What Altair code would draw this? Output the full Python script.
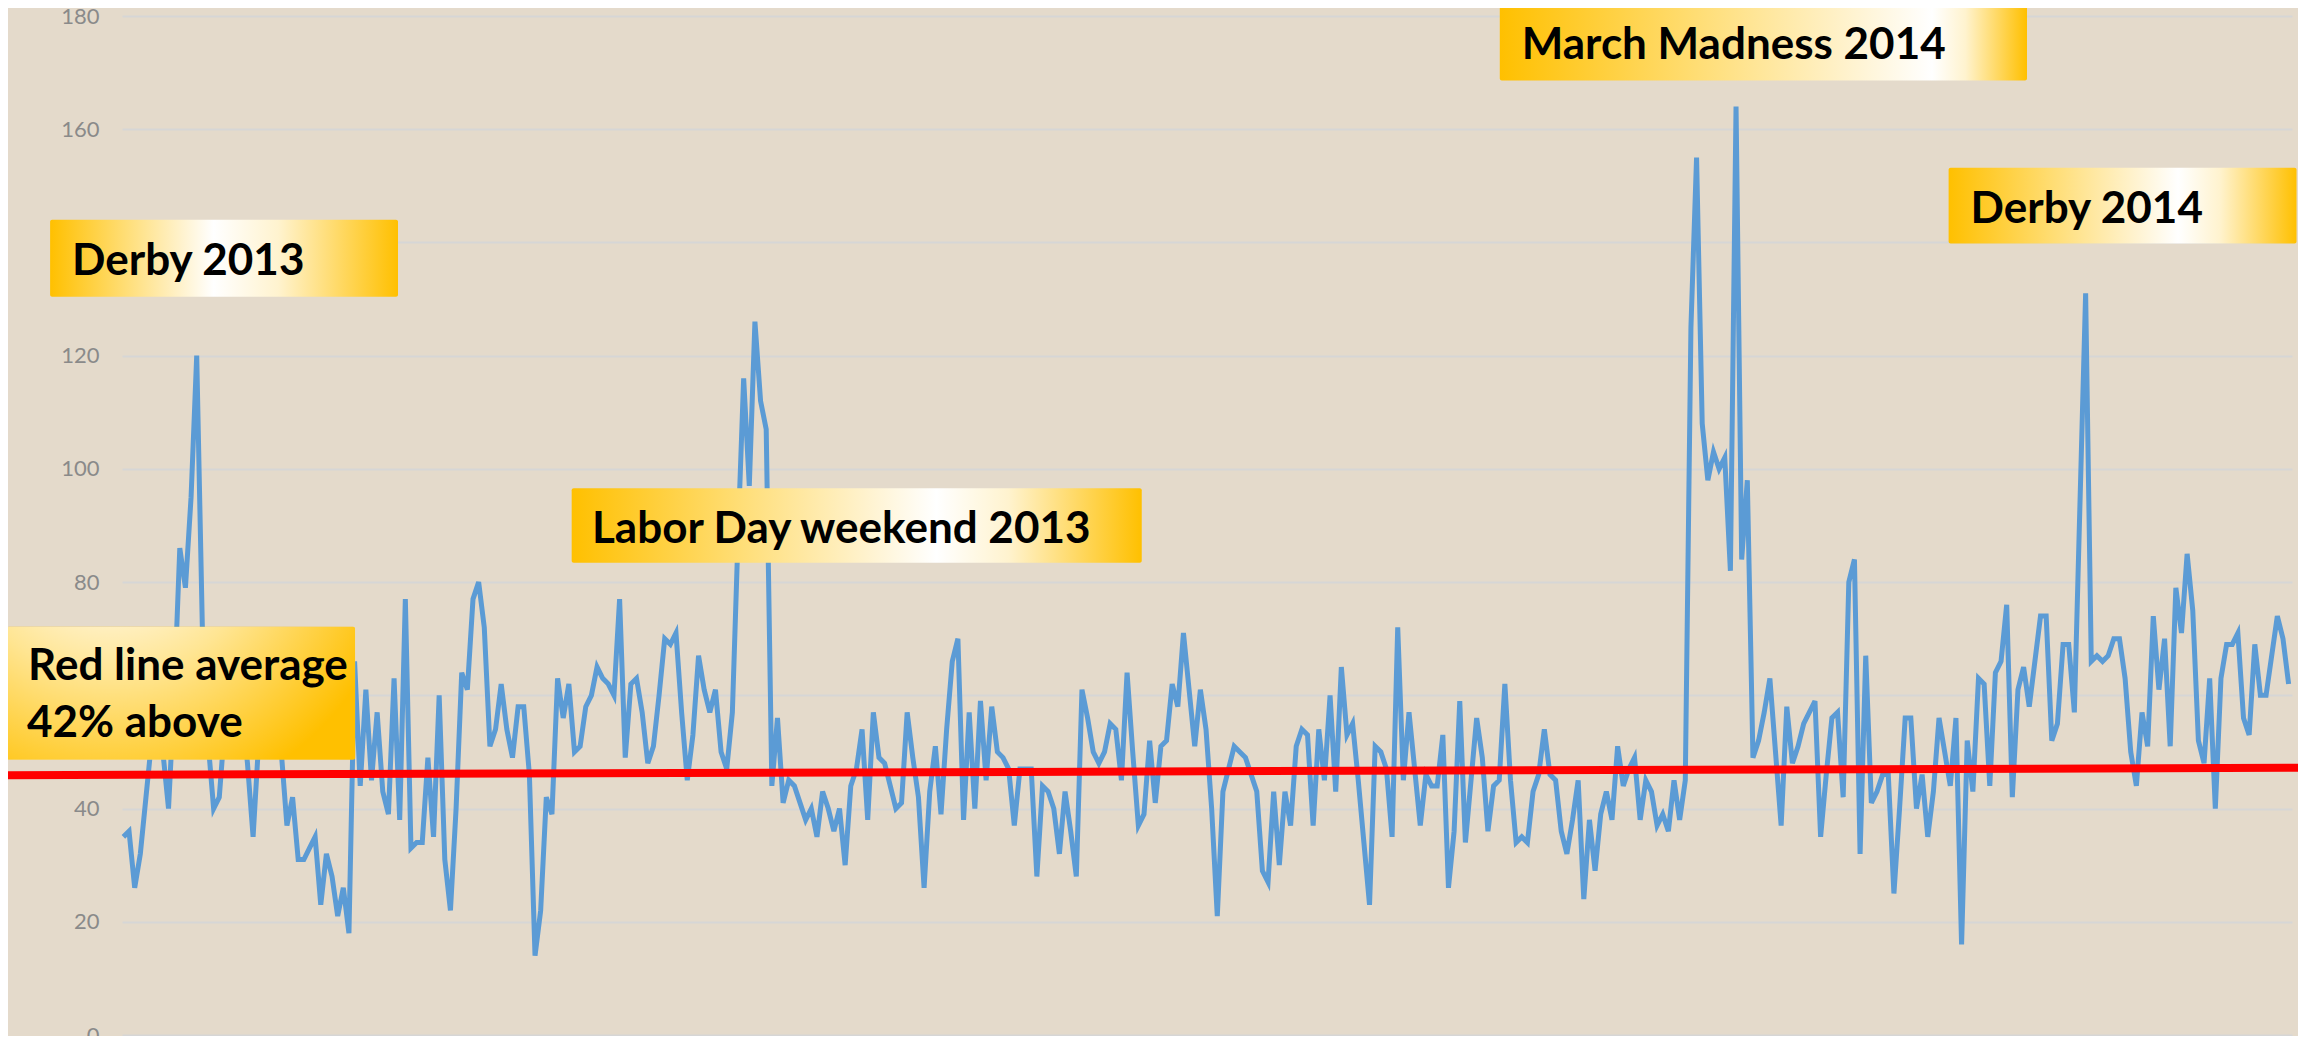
import altair as alt
import pandas as pd

# ---- series values (one per day-step) ----
values = [
    35, 36, 26, 32, 42, 52, 58, 50, 40, 60,
    86, 79, 95, 120, 72, 52, 40, 42, 55, 60,
    50, 58, 48, 35, 52, 62, 55, 60, 50, 37,
    42, 31, 31, 33, 35, 23, 32, 28, 21, 26,
    18, 66, 44, 61, 45, 57, 43, 39, 63, 38,
    77, 33, 34, 34, 49, 35, 60, 31, 22, 40,
    64, 61, 77, 80, 72, 51, 54, 62, 54, 49,
    58, 58, 46, 14, 22, 42, 39, 63, 56, 62,
    50, 51, 58, 60, 65, 63, 62, 60, 77, 49,
    62, 63, 57, 48, 51, 60, 70, 69, 71, 57,
    45, 53, 67, 61, 57, 61, 50, 47, 57, 88,
    116, 97, 126, 112, 107, 44, 56, 41, 45, 44,
    41, 38, 40, 35, 43, 40, 36, 40, 30, 44,
    47, 54, 38, 57, 49, 48, 44, 40, 41, 57,
    49, 42, 26, 43, 51, 39, 54, 66, 70, 38,
    57, 40, 59, 45, 58, 50, 49, 47, 37, 47,
    47, 47, 28, 44, 43, 40, 32, 43, 36, 28,
    61, 56, 50, 48, 50, 55, 54, 45, 64, 50,
    37, 39, 52, 41, 51, 52, 62, 58, 71, 61,
    51, 61, 54, 40, 21, 43, 47, 51, 50, 49,
    46, 43, 29, 27, 43, 30, 43, 37, 51, 54,
    53, 37, 54, 45, 60, 43, 65, 53, 55, 45,
    34, 23, 51, 50, 47, 35, 72, 45, 57, 47,
    37, 46, 44, 44, 53, 26, 36, 59, 34, 45,
    56, 49, 36, 44, 45, 62, 45, 34, 35, 34,
    43, 46, 54, 46, 45, 36, 32, 38, 45, 24,
    38, 29, 39, 43, 38, 51, 44, 47, 49, 38,
    45, 43, 37, 39, 36, 45, 38, 45, 125, 155,
    108, 98, 103, 100, 102, 82, 164, 84, 98, 49,
    52, 57, 63, 50, 37, 58, 48, 51, 55, 57,
    59, 35, 46, 56, 57, 42, 80, 84, 32, 67,
    41, 43, 46, 46, 25, 40, 56, 56, 40, 46,
    35, 43, 56, 50, 44, 56, 16, 52, 43, 63,
    62, 44, 64, 66, 76, 42, 61, 65, 58, 66,
    74, 74, 52, 55, 69, 69, 57, 94, 131, 66,
    67, 66, 67, 70, 70, 63, 50, 44, 57, 51,
    74, 61, 70, 51, 79, 71, 85, 75, 52, 48,
    63, 40, 63, 69, 69, 71, 56, 53, 69, 60,
    60, 67, 74, 70, 62,
]
day_index = list(range(len(values)))

y_ticks = [0, 20, 40, 60, 80, 100, 120, 140, 160, 180]

# red trend line (start / end)
red_x = [-20.6, 386.3]
red_y = [45.9, 47.2]

# annotation boxes (data units)
box_x1 = [-13.0, -20.6, 79.5, 244.1, 323.7]
box_x2 = [48.7, 41.1, 180.6, 337.6, 385.4]
box_y1 = [130.4, 48.6, 83.4, 168.6, 139.8]
box_y2 = [144.0, 72.1, 96.6, 182.3, 153.2]
box_white = [0.47, 0.30, 0.64, 0.82, 0.66]

# annotation texts
ann_text = ["Derby 2013", "Red line average", "42% above",
            "Labor Day weekend 2013", "March Madness 2014", "Derby 2014"]
ann_x = [-9.1, -16.9, -17.1, 83.1, 248.0, 327.6]
ann_y = [134.3, 62.7, 52.7, 86.9, 172.4, 143.4]

ORANGE = "#ffc000"
BLUE = "#5b9bd5"

xscale = alt.Scale(domain=[-0.25, 384.6], nice=False, zero=False)
yscale = alt.Scale(domain=[0, 180], nice=False, zero=True)
yaxis = alt.Axis(values=y_ticks, grid=True, gridColor="#d6d6d6", gridWidth=2,
                 domain=False, ticks=False, tickSize=0, labelColor="#8a8a8a",
                 labelFont="Lato", labelFontSize=22, labelPadding=23, title=None)

df = pd.DataFrame({"i": day_index, "v": values})

line = alt.Chart(df).mark_line(color=BLUE, strokeWidth=5).encode(
    x=alt.X("i:Q", scale=xscale, axis=None),
    y=alt.Y("v:Q", scale=yscale, axis=yaxis),
)

red_df = pd.DataFrame({"i": red_x, "v": red_y})
red = alt.Chart(red_df).mark_line(color="#ff0000", strokeWidth=8, clip=False).encode(
    x=alt.X("i:Q", scale=xscale, axis=None),
    y=alt.Y("v:Q", scale=yscale, axis=yaxis),
)

layers = [line, red]

for k in range(len(box_x1)):
    w = box_white[k]
    if k == 1:
        fill = {
            "gradient": "radial",
            "x1": 0.3, "y1": 0.0, "r1": 0.0,
            "x2": 0.3, "y2": 0.0, "r2": 1.0,
            "stops": [
                {"offset": 0.0, "color": "#ffffff"},
                {"offset": 0.15, "color": "#fffaf0"},
                {"offset": 0.45, "color": "#ffe592"},
                {"offset": 0.85, "color": ORANGE},
                {"offset": 1.0, "color": ORANGE},
            ],
        }
    else:
        fill = {
            "gradient": "linear",
            "x1": 0, "y1": 0, "x2": 1, "y2": 0,
            "stops": [
                {"offset": 0.0, "color": ORANGE},
                {"offset": w * 0.45, "color": "#ffdd73"},
                {"offset": w * 0.8, "color": "#fff2cc"},
                {"offset": w, "color": "#ffffff"},
                {"offset": w + (1 - w) * 0.35, "color": "#fff3cf"},
                {"offset": 1.0, "color": ORANGE},
            ],
        }
    bdf = pd.DataFrame({"x1": [box_x1[k]], "x2": [box_x2[k]],
                        "y1": [box_y1[k]], "y2": [box_y2[k]]})
    rect = alt.Chart(bdf).mark_rect(fill=fill, cornerRadius=2, clip=False).encode(
        x=alt.X("x1:Q", scale=xscale, axis=None),
        x2="x2:Q",
        y=alt.Y("y1:Q", scale=yscale, axis=yaxis),
        y2="y2:Q",
    )
    layers.append(rect)

ann_df = pd.DataFrame({"i": ann_x, "v": ann_y, "t": ann_text})
texts = alt.Chart(ann_df).mark_text(
    align="left", baseline="alphabetic", font="Lato", fontWeight="bold",
    fontSize=44, color="#000000", clip=False,
).encode(
    x=alt.X("i:Q", scale=xscale, axis=None),
    y=alt.Y("v:Q", scale=yscale, axis=yaxis),
    text="t:N",
)
layers.append(texts)

chart = alt.layer(*layers).properties(
    width=2170, height=1019,
    autosize=alt.AutoSizeParams(type="none"),
    padding={"left": 114, "top": 8, "right": 6, "bottom": 1},
).configure(background="#e4dacb").configure_view(stroke=None)

chart.save("out.html", embed_options={"renderer": "svg", "actions": False})
